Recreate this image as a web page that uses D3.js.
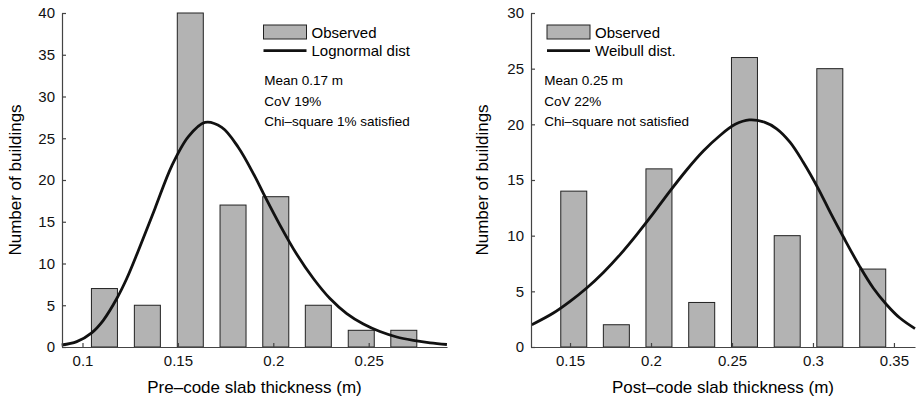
<!DOCTYPE html>
<html>
<head>
<meta charset="utf-8">
<script src="https://cdn.jsdelivr.net/npm/d3@7"></script>
<style>
    body { margin: 0; background: #fff; }
    svg { display: block; font-family: "Liberation Sans", Arial, sans-serif; }
    .axis path, .axis line { stroke: #444; stroke-width: 1.2; }
    .axis text { font-size: 15px; fill: #111; }
</style>
</head>
<body>
<svg id="chart" width="918" height="398"></svg>
<script>
// pre-code histogram (left)
var preBins   = [0.1115, 0.134, 0.1565, 0.1789, 0.2013, 0.2236, 0.2461, 0.2684];
var preCounts = [7, 5, 40, 17, 18, 5, 2, 2];
// lognormal curve
var preCurveX = [0.0891, 0.0970, 0.1048, 0.1109, 0.1182, 0.1232, 0.1292, 0.1380, 0.1468, 0.1555,
                 0.1642, 0.1730, 0.1817, 0.1904, 0.1948, 0.2035, 0.2123, 0.2210, 0.2297, 0.2385,
                 0.2472, 0.2559, 0.2647, 0.2734, 0.2822, 0.2910];
var preCurveY = [0.24, 0.64, 1.7, 3.2, 5.9, 8.2, 11.5, 16.6, 21.7, 25.2,
                 26.9, 26.3, 23.9, 20.4, 18.4, 14.6, 11.1, 8.2, 5.8, 4.0,
                 2.75, 1.85, 1.2, 0.8, 0.5, 0.3];
var preTicksX = [0.1, 0.15, 0.2, 0.25];
var preTicksY = [0, 5, 10, 15, 20, 25, 30, 35, 40];

// post-code histogram (right)
var postBins   = [0.1523, 0.1786, 0.2049, 0.2313, 0.2577, 0.2841, 0.3104, 0.3369];
var postCounts = [14, 2, 16, 4, 26, 10, 25, 7];
// weibull curve
var postCurveX = [0.1264, 0.1397, 0.1500, 0.1603, 0.1706, 0.1809, 0.1912, 0.2014, 0.2117, 0.2220,
                  0.2323, 0.2426, 0.2520, 0.2607, 0.2700, 0.2776, 0.2858, 0.2940, 0.3030, 0.3110,
                  0.3187, 0.3290, 0.3372, 0.3455, 0.3537, 0.3630];
var postCurveY = [2.0, 3.05, 4.1, 5.3, 6.7, 8.3, 10.1, 12.0, 14.0, 15.9,
                  17.6, 19.0, 20.0, 20.4, 20.2, 19.6, 18.4, 16.6, 14.3, 12.0,
                  9.9, 7.2, 5.3, 3.8, 2.6, 1.65];
var postTicksX = [0.15, 0.2, 0.25, 0.3, 0.35];
var postTicksY = [0, 5, 10, 15, 20, 25, 30];

const svg = d3.select("#chart");
svg.append("rect").attr("width", 918).attr("height", 398).attr("fill", "#fff");

function drawPanel(p) {
    let x = d3.scaleLinear().domain(p.xDomain).range([p.left, p.right]);
    let y = d3.scaleLinear().domain([0, p.yMax]).range([347, 13]);

    let g = svg.append("g");

    // bars
    g.selectAll(".bar")
        .data(p.bins.map((b, i) => ({bin: b, count: p.counts[i]})))
        .enter().append("rect")
        .attr("class", "bar")
        .attr("x", d => x(d.bin - p.barW / 2))
        .attr("width", d => x(d.bin + p.barW / 2) - x(d.bin - p.barW / 2))
        .attr("y", d => y(d.count))
        .attr("height", d => y(0) - y(d.count))
        .style("fill", "#b3b3b3")
        .style("stroke", "#222")
        .style("stroke-width", 1);

    // fitted distribution
    let line = d3.line()
        .x(d => x(d[0]))
        .y(d => y(d[1]))
        .curve(d3.curveCatmullRom.alpha(0.5));

    g.append("path")
        .datum(p.curveX.map((v, i) => [v, p.curveY[i]]))
        .attr("d", line)
        .style("fill", "none")
        .style("stroke", "#111")
        .style("stroke-width", 2.8);

    // axes, ticks pointing inwards
    g.append("g")
        .attr("class", "axis")
        .attr("transform", "translate(0,347)")
        .call(d3.axisBottom(x).tickValues(p.ticksX).tickFormat(d3.format("")).tickSizeInner(-4).tickSizeOuter(0).tickPadding(8));

    g.append("g")
        .attr("class", "axis")
        .attr("transform", "translate(" + p.left + ",0)")
        .call(d3.axisLeft(y).tickValues(p.ticksY).tickSizeInner(-4).tickSizeOuter(0).tickPadding(7));

    // axis titles
    g.append("text")
        .attr("x", (p.left + p.right) / 2)
        .attr("y", 393)
        .style("font-size", "17px")
        .style("text-anchor", "middle")
        .text(p.xTitle);

    g.append("text")
        .attr("transform", "translate(" + p.yTitleX + ",180) rotate(-90)")
        .style("font-size", "17px")
        .style("text-anchor", "middle")
        .text("Number of buildings");

    // legend
    g.append("rect")
        .attr("x", p.legendX).attr("y", 25)
        .attr("width", 43).attr("height", 14)
        .style("fill", "#b3b3b3").style("stroke", "#222");
    g.append("line")
        .attr("x1", p.legendX).attr("x2", p.legendX + 43)
        .attr("y1", 50.7).attr("y2", 50.7)
        .style("stroke", "#111").style("stroke-width", 2.8);
    g.append("text").attr("x", p.legendX + 48).attr("y", 37.5)
        .style("font-size", "15px").text("Observed");
    g.append("text").attr("x", p.legendX + 48).attr("y", 56)
        .style("font-size", "15px").text(p.curveName);

    g.selectAll(".stat")
        .data(p.stats)
        .enter().append("text")
        .attr("class", "stat")
        .attr("x", p.statX)
        .attr("y", (d, i) => 85 + i * 20.6)
        .style("font-size", "13.5px")
        .text(d => d);
}

drawPanel({
    bins: preBins, counts: preCounts, curveX: preCurveX, curveY: preCurveY,
    ticksX: preTicksX, ticksY: preTicksY, yMax: 40,
    xDomain: [0.08926, 0.29104], left: 62, right: 447, barW: 0.01363,
    xTitle: "Pre\u2013code slab thickness (m)", yTitleX: 21,
    legendX: 263.5, curveName: "Lognormal dist",
    statX: 264.3, stats: ["Mean 0.17 m", "CoV 19%", "Chi\u2013square 1% satisfied"]
});

drawPanel({
    bins: postBins, counts: postCounts, curveX: postCurveX, curveY: postCurveY,
    ticksX: postTicksX, ticksY: postTicksY, yMax: 30,
    xDomain: [0.1259, 0.3630], left: 531, right: 915, barW: 0.01605,
    xTitle: "Post\u2013code slab thickness (m)", yTitleX: 488,
    legendX: 547, curveName: "Weibull dist.",
    statX: 544.3, stats: ["Mean 0.25 m", "CoV 22%", "Chi\u2013square not satisfied"]
});
</script>
</body>
</html>
